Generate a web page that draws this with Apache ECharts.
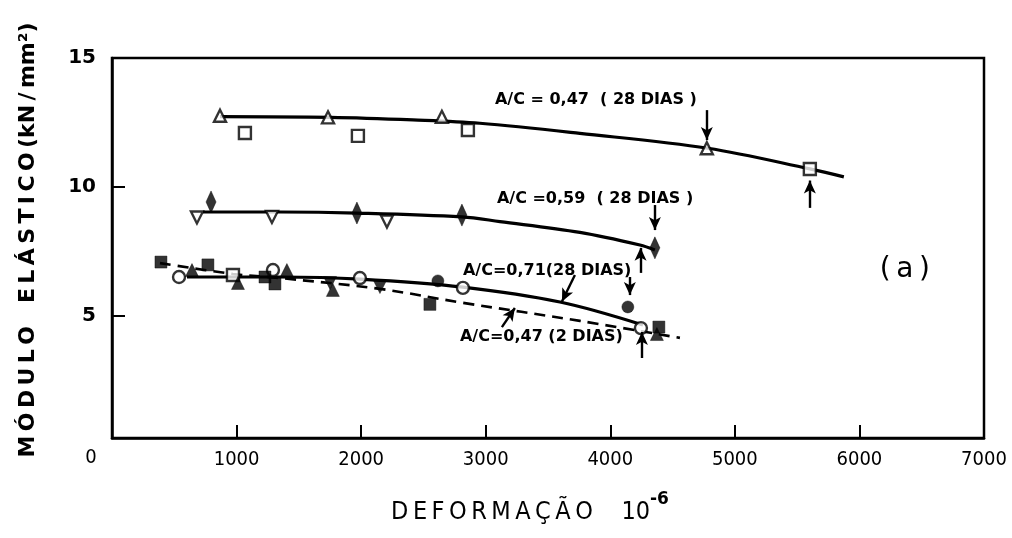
<!DOCTYPE html>
<html>
<head>
<meta charset="utf-8">
<script src="https://cdn.jsdelivr.net/npm/echarts@6/dist/echarts.min.js"></script>
<style>
html,body{margin:0;padding:0;background:#fff;}
#chart{width:1012px;height:538px;}
</style>
</head>
<body>
<div id="chart"></div>
<script>
// ---- tick labels ----
const xTickValues = [1000, 2000, 3000, 4000, 5000, 6000];
const xLabelValues = [1000, 2000, 3000, 4000, 5000, 6000, 7000];
const yTickValues = [5, 10];
const yLabelValues = [5, 10, 15];

// ---- A/C = 0,47 (28 dias) ----
const c047d28Curve = [[867,12.73],[1750,12.70],[2416,12.60],[2953,12.47],[3756,12.08],[4783,11.50],[5602,10.70],[5875,10.39]];
const c047d28TriOpen = [[867,12.76],[1734,12.70],[2648,12.72],[4775,11.50]];
const c047d28SqOpen = [[1067,12.09],[1974,11.98],[2857,12.21],[5602,10.70]];

// ---- A/C = 0,59 (28 dias) ----
const c059Curve = [[730,9.03],[1348,9.03],[1966,8.99],[2809,8.84],[3114,8.66],[3756,8.24],[4238,7.75],[4358,7.56]];
const c059TriDownOpen = [[682,8.82],[1284,8.84],[2207,8.66]];
const c059Diamond = [[795,9.42],[1966,8.99],[2809,8.91],[4358,7.64]];

// ---- A/C = 0,71 (28 dias) ----
const c071Curve = [[602,6.51],[1348,6.51],[1990,6.43],[2817,6.12],[3596,5.54],[4262,4.65]];
const c071CircOpen = [[538,6.51],[1292,6.78],[1990,6.47],[2817,6.09],[4246,4.53]];
const c071CircFilled = [[2616,6.36],[4141,5.35]];
const c071SqOpen = [[971,6.59]];

// ---- A/C = 0,47 (2 dias) ----
const c047d2Curve = [[385,7.05],[971,6.63],[1348,6.47],[2151,6.05],[2817,5.51],[3756,4.81],[4559,4.15]];
const c047d2SqFilled = [[393,7.09],[770,6.98],[1228,6.51],[1308,6.24],[2552,5.45],[4390,4.57]];
const c047d2TriFilled = [[642,6.78],[1011,6.28],[1404,6.78],[1773,6.01],[4374,4.30]];
const c047d2TriDownFilled = [[2151,6.12],[1750,6.28]];

// ---- annotations (data units) ----
const curveLabels = [
  ['A/C = 0,47  ( 28 DIAS )', 3074, 13.37],
  ['A/C =0,59  ( 28 DIAS )', 3090, 9.53],
  ['A/C=0,71(28 DIAS)', 2817, 6.74],
  ['A/C=0,47 (2 DIAS)', 2793, 4.19]
];
const arrows = [
  [[4775,12.98],[4775,11.82]],
  [[5602,9.19],[5602,10.25]],
  [[4358,9.30],[4358,8.33]],
  [[4243,6.67],[4243,7.64]],
  [[4157,6.51],[4157,5.81]],
  [[4254,3.37],[4254,4.38]],
  [[3716,6.59],[3612,5.56]],
  [[3130,4.57],[3234,5.31]]
];
const panelTag = ['(\u2009a\u2009)', 6364, 6.78];

const BLACK = '#000';
const chart = echarts.init(document.getElementById('chart'), null, {renderer:'canvas'});

function curve(data, dashed) {
  return {
    type: 'line', data: data, smooth: 0.35, symbol: 'none', z: 2,
    lineStyle: {color: BLACK, width: dashed ? 2.6 : 3.2, type: dashed ? [11, 7] : 'solid'}
  };
}
function marks(data, symbol, size, filled, rotate) {
  return {
    type: 'scatter', data: data, symbol: symbol, symbolSize: size, symbolRotate: rotate || 0, z: 3,
    itemStyle: {color: filled ? BLACK : '#fff', borderColor: BLACK, borderWidth: filled ? 0.5 : 2.4}
  };
}

const xFont = "'Liberation Sans Narrow', 'DejaVu Sans Condensed', 'Liberation Sans', sans-serif";

const option = {
  animation: false,
  backgroundColor: '#fff',
  grid: {left: 112, right: 28, top: 58, bottom: 100, show: true, borderColor: BLACK, borderWidth: 2.5, backgroundColor: 'transparent'},
  xAxis: {
    type: 'value', min: 0, max: 7000, interval: 1000,
    axisLine: {show: true, lineStyle: {color: BLACK, width: 2.5}},
    axisTick: {show: true, inside: true, length: 13, customValues: xTickValues, lineStyle: {color: BLACK, width: 2}},
    axisLabel: {show: true, customValues: xLabelValues, margin: 12, color: BLACK, fontSize: 20,
      fontFamily: xFont, formatter: v => String(v)},
    splitLine: {show: false}
  },
  yAxis: {
    type: 'value', min: 0.27, max: 15,
    axisLine: {show: true, lineStyle: {color: BLACK, width: 2.5}},
    axisTick: {show: true, inside: true, length: 13, customValues: yTickValues, lineStyle: {color: BLACK, width: 2}},
    axisLabel: {show: true, customValues: yLabelValues, margin: 16, color: BLACK, fontSize: 20, fontWeight: 'bold',
      fontFamily: "'DejaVu Sans', sans-serif", formatter: v => String(v)},
    splitLine: {show: false}
  },
  series: [
    curve(c047d28Curve, false),
    curve(c059Curve, false),
    curve(c071Curve, false),
    curve(c047d2Curve, true),
    marks(c047d28TriOpen, 'triangle', 12, false),
    marks(c047d28SqOpen, 'rect', 12, false),
    marks(c059TriDownOpen, 'triangle', 12, false, 180),
    marks(c059Diamond, 'diamond', [10, 22], true),
    marks(c071CircOpen, 'circle', 12, false),
    marks(c071CircFilled, 'circle', 12, true),
    marks(c071SqOpen, 'rect', 12, false),
    marks(c047d2SqFilled, 'rect', 12, true),
    marks(c047d2TriFilled, 'triangle', 13, true),
    marks(c047d2TriDownFilled, 'triangle', 13, true, 180),
    {
      type: 'line', data: [], z: 5, silent: true,
      markLine: {
        silent: true, symbol: ['none', 'arrow'], symbolSize: [9, 13], precision: 4,
        label: {show: false},
        lineStyle: {color: BLACK, width: 2.4, type: 'solid'},
        emphasis: {disabled: true},
        data: arrows.map(a => [{coord: a[0]}, {coord: a[1]}])
      }
    }
  ]
};
chart.setOption(option);

// text annotations placed through the chart's own scales
const toPx = p => chart.convertToPixel({gridIndex: 0}, p);
const graphics = [
  {type: 'text', x: 91, y: 458, style: {text: '0', font: '20px ' + xFont, fill: BLACK, align: 'center', verticalAlign: 'middle'}},
  {type: 'text', x: 28, y: 240, rotation: Math.PI / 2, style: {
    text: 'M\u2009Ó\u2009D\u2009U\u2009L\u2009O   E\u2009L\u2009Á\u2009S\u2009T\u2009I\u2009C\u2009O\u2009(kN\u2009/\u2009mm²)',
    font: "bold 22px 'DejaVu Sans', sans-serif", fill: BLACK, align: 'center', verticalAlign: 'middle'}},
  {type: 'text', x: 530, y: 508, style: {
    text: '{t|D\u2009E\u2009F\u2009O\u2009R\u2009M\u2009A\u2009Ç\u2009Ã\u2009O}{t|    10}{s|-6}',
    rich: {
      t: {font: "25px 'DejaVu Sans Condensed', 'DejaVu Sans', sans-serif", fill: BLACK, verticalAlign: 'bottom'},
      s: {font: "bold 17px 'DejaVu Sans', sans-serif", fill: BLACK, verticalAlign: 'top', padding: [0, 0, 16, 0]}
    },
    align: 'center', verticalAlign: 'middle'}}
];
curveLabels.forEach(d => {
  const p = toPx([d[1], d[2]]);
  graphics.push({type: 'text', x: p[0], y: p[1], z: 10, style: {
    text: d[0], font: "bold 16px 'DejaVu Sans', sans-serif", fill: BLACK, align: 'left', verticalAlign: 'middle'}});
});
{
  const p = toPx([panelTag[1], panelTag[2]]);
  graphics.push({type: 'text', x: p[0], y: p[1], z: 10, style: {
    text: panelTag[0], font: "28px 'DejaVu Sans', sans-serif", fill: BLACK, align: 'center', verticalAlign: 'middle'}});
}
chart.setOption({graphic: graphics});
</script>
</body>
</html>
